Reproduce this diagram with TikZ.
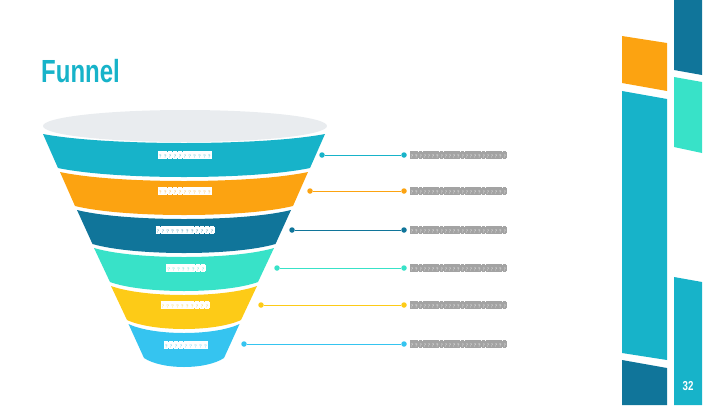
\documentclass[tikz,border=0pt]{standalone}
\usepackage{fontspec}
\usetikzlibrary{positioning}
\newfontfamily\titlefont[FakeStretch=0.75]{Liberation Sans}
\definecolor{fteal}{HTML}{17B3C9}
\definecolor{forange}{HTML}{FCA311}
\definecolor{fnavy}{HTML}{10759A}
\definecolor{fmint}{HTML}{38E2C8}
\definecolor{fyellow}{HTML}{FDCB17}
\definecolor{fsky}{HTML}{35C4F0}
\definecolor{frim}{HTML}{E9ECEF}
\definecolor{fgrey}{HTML}{A3A3A3}
\tikzstyle{dot}=[
	shape=circle,
	minimum size=5.5pt,
	inner sep=0pt
]
\tikzstyle{link} = [draw,line width=1pt,-]
\tikzstyle{bandtext} = [inner sep=0pt]
\tikzstyle{note} = [inner sep=0pt,anchor=west]
% row of missing-glyph boxes: count, box colour, mark colour, box width
\newcommand\qrow[4]{{\setlength\fboxsep{0.3pt}\setlength\fboxrule{0.3pt}%
	\foreach \q in {1,...,#1}{\fcolorbox{#2}{#2}{\makebox[#4]{\rule{0pt}{6pt}\fontsize{5}{5}\selectfont\color{#3}?}}\kern0.4pt}}}

\begin{document}
\begin{tikzpicture}[x=1pt,y=-1pt]
	\useasboundingbox (0,0) rectangle (720,405);
	
	% title
	\node[anchor=base west,inner sep=0pt,text=fteal] (title) at (41,82) {\titlefont\bfseries\fontsize{32}{32}\selectfont Funnel};
	
	% side bars
	\fill[forange] (622,36) -- (667,43) -- (667,91) -- (622,83) -- cycle;
	\fill[fteal] (622,91) -- (667,99) -- (667,360) -- (622,353) -- cycle;
	\fill[fnavy] (622,360) -- (667,368) -- (667,405) -- (622,405) -- cycle;
	\fill[fnavy] (674,0) -- (702,0) -- (702,75) -- (674,70) -- cycle;
	\fill[fmint] (674,77) -- (702,82) -- (702,153) -- (674,147) -- cycle;
	\fill[fteal] (674,277) -- (702,282) -- (702,405) -- (674,405) -- cycle;
	\node[text=white] (page) at (688,386) {\titlefont\bfseries\fontsize{13}{13}\selectfont 32};
	
	% funnel
	\fill[frim] (185,126) ellipse [x radius=142pt,y radius=16pt];
	\fill[fteal] (43,134) .. controls (106,146) and (262,146) .. (325,134) -- (310,168) .. controls (253,180) and (115,180) .. (58,168) -- cycle;
	\fill[forange] (60,172) .. controls (116,184) and (252,184) .. (308,172) -- (293,206) .. controls (244,218) and (124,218) .. (75,206) -- cycle;
	\fill[fnavy] (77,210) .. controls (125,222) and (243,222) .. (291,210) -- (275.5,244) .. controls (234,256) and (134,256) .. (92.5,244) -- cycle;
	\fill[fmint] (94,248) .. controls (134.5,260) and (233.5,260) .. (274,248) -- (258,282) .. controls (225,294) and (143,294) .. (110,282) -- cycle;
	\fill[fyellow] (111,286) .. controls (144,298) and (224,298) .. (257,286) -- (241,320) .. controls (215,332) and (153,332) .. (127,320) -- cycle;
	\fill[fsky] (128.5,324) .. controls (153.5,336) and (214.5,336) .. (239.5,324) -- (224,358) .. controls (206,370) and (162,370) .. (144,358) -- cycle;
	
	\node[bandtext] (t1) at (185,155) {\qrow{11}{white}{fteal}{3.3pt}};
	\node[bandtext] (t2) at (185,191) {\qrow{11}{white}{forange}{3.3pt}};
	\node[bandtext] (t3) at (185,230) {\qrow{12}{white}{fnavy}{3.3pt}};
	\node[bandtext] (t4) at (186,268) {\qrow{8}{white}{fmint}{3.3pt}};
	\node[bandtext] (t5) at (185,305) {\qrow{10}{white}{fyellow}{3.3pt}};
	\node[bandtext] (t6) at (186,345) {\qrow{9}{white}{fsky}{3.3pt}};
	
	% connectors
	\node[dot,fill=fteal]	(a1) at (322,155) {};
	\node[dot,fill=fteal]	(b1) at (404,155) {};
	\node[dot,fill=forange]	(a2) at (310,191) {};
	\node[dot,fill=forange]	(b2) at (404,191) {};
	\node[dot,fill=fnavy]	(a3) at (292,230) {};
	\node[dot,fill=fnavy]	(b3) at (404,230) {};
	\node[dot,fill=fmint]	(a4) at (277,268) {};
	\node[dot,fill=fmint]	(b4) at (404,268) {};
	\node[dot,fill=fyellow]	(a5) at (261,305) {};
	\node[dot,fill=fyellow]	(b5) at (404,305) {};
	\node[dot,fill=fsky]	(a6) at (244,344) {};
	\node[dot,fill=fsky]	(b6) at (404,344) {};
	
	\path[link,fteal] (a1) -- (b1);
	\path[link,forange] (a2) -- (b2);
	\path[link,fnavy] (a3) -- (b3);
	\path[link,fmint] (a4) -- (b4);
	\path[link,fyellow] (a5) -- (b5);
	\path[link,fsky] (a6) -- (b6);
	
	\node[note,right=3pt of b1] (n1) {\qrow{23}{fgrey}{white}{2.6pt}};
	\node[note,right=3pt of b2] (n2) {\qrow{23}{fgrey}{white}{2.6pt}};
	\node[note,right=3pt of b3] (n3) {\qrow{23}{fgrey}{white}{2.6pt}};
	\node[note,right=3pt of b4] (n4) {\qrow{23}{fgrey}{white}{2.6pt}};
	\node[note,right=3pt of b5] (n5) {\qrow{23}{fgrey}{white}{2.6pt}};
	\node[note,right=3pt of b6] (n6) {\qrow{23}{fgrey}{white}{2.6pt}};
	
\end{tikzpicture}
\end{document}
